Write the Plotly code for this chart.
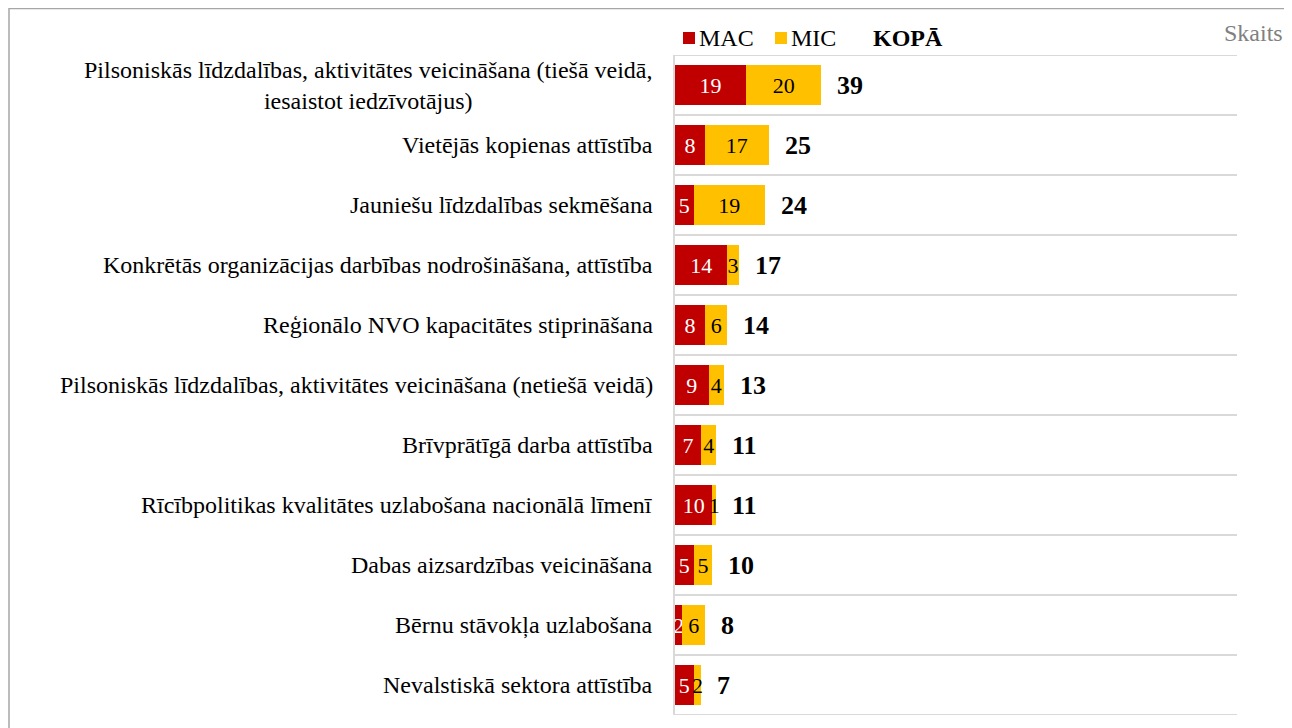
import plotly.graph_objects as go

categories = [
    "Pilsoniskās līdzdalības, aktivitātes veicināšana (tiešā veidā,<br>iesaistot iedzīvotājus)",
    "Vietējās kopienas attīstība",
    "Jauniešu līdzdalības sekmēšana",
    "Konkrētās organizācijas darbības nodrošināšana, attīstība",
    "Reģionālo NVO kapacitātes stiprināšana",
    "Pilsoniskās līdzdalības, aktivitātes veicināšana (netiešā veidā)",
    "Brīvprātīgā darba attīstība",
    "Rīcībpolitikas kvalitātes uzlabošana nacionālā līmenī",
    "Dabas aizsardzības veicināšana",
    "Bērnu stāvokļa uzlabošana",
    "Nevalstiskā sektora attīstība",
]
mac = [19, 8, 5, 14, 8, 9, 7, 10, 5, 2, 5]
mic = [20, 17, 19, 3, 6, 4, 4, 1, 5, 6, 2]
totals = [a + b for a, b in zip(mac, mic)]
series_names = ["MAC", "MIC"]
total_label = "KOPĀ"
unit_label = "Skaits"

RED = "#C00000"
GOLD = "#FFC000"
GRID = "#d9d9d9"
FONT = "Liberation Serif"
n = len(categories)
ypos = list(range(n))

# page pixel -> paper coordinate helpers (plot area spans x 675..1237, y 55..715 on the page)
def px(xp):
    return (xp - 675) / 562

def py(yp):
    return (715 - yp) / 660

fig = go.Figure()
for name, vals, col, tcol in [(series_names[0], mac, RED, "white"),
                              (series_names[1], mic, GOLD, "black")]:
    fig.add_trace(go.Bar(
        y=ypos, x=vals, orientation="h", name=name,
        marker=dict(color=col, line=dict(width=0)),
        text=[str(v) for v in vals], textposition="inside", insidetextanchor="middle",
        constraintext="none", textangle=0,
        textfont=dict(family=FONT, size=22, color=tcol),
        showlegend=False,
    ))

annotations = []
for i, (cat, tot) in enumerate(zip(categories, totals)):
    annotations.append(dict(
        x=0, xref="paper", y=i, yref="y", text=cat, showarrow=False,
        xanchor="right", yanchor="middle", xshift=-20, align="center",
        font=dict(family=FONT, size=24, color="black"),
    ))
    annotations.append(dict(
        x=tot, xref="x", y=i, yref="y", text=f"<b>{tot}</b>", showarrow=False,
        xanchor="left", yanchor="middle", xshift=14,
        font=dict(family=FONT, size=26, color="black"),
    ))

shapes = []
# horizontal separators at category boundaries
for k in range(n + 1):
    shapes.append(dict(type="line", xref="paper", yref="y",
                       x0=0, x1=1, y0=k - 0.5, y1=k - 0.5,
                       line=dict(color=GRID, width=2), layer="below"))

# custom legend
for name, col, sq_x, tx_x in [(series_names[0], RED, 683, 697), (series_names[1], GOLD, 775, 789)]:
    shapes.append(dict(type="rect", xref="paper", yref="paper",
                       x0=px(sq_x), x1=px(sq_x + 12), y0=py(44), y1=py(32),
                       fillcolor=col, line=dict(width=0)))
    annotations.append(dict(
        x=px(tx_x), xref="paper", y=py(38), yref="paper", text=name,
        showarrow=False, xanchor="left", yanchor="middle",
        font=dict(family=FONT, size=24, color="black"),
    ))
annotations.append(dict(
    x=px(871), xref="paper", y=py(38), yref="paper",
    text=f"<b>{total_label}</b>", showarrow=False, xanchor="left", yanchor="middle",
    font=dict(family=FONT, size=24, color="black"),
))
annotations.append(dict(
    x=px(1285), xref="paper", y=py(33), yref="paper",
    text=unit_label, showarrow=False, xanchor="right", yanchor="middle",
    font=dict(family=FONT, size=24, color="#808080"),
))

# outer frame (top and left edges visible)
shapes.append(dict(
    type="rect", xref="paper", yref="paper",
    x0=px(9), x1=px(1330), y0=py(760), y1=py(8.5),
    line=dict(color="#a6a6a6", width=1.5), fillcolor="rgba(0,0,0,0)",
    layer="below",
))

fig.update_layout(
    width=1284, height=720,
    margin=dict(l=667, r=55, t=47, b=13),
    paper_bgcolor="white", plot_bgcolor="white",
    barmode="stack", bargap=1/3,
    font=dict(family=FONT, size=24, color="black"),
    showlegend=False,
    xaxis=dict(range=[0, 150], showgrid=False, zeroline=False,
               showticklabels=False, ticks="", showline=False,
               fixedrange=True),
    yaxis=dict(range=[n - 0.5, -0.5], tickvals=ypos, showticklabels=False,
               showgrid=False, zeroline=False, ticks="",
               showline=True, linecolor=GRID, linewidth=2,
               fixedrange=True),
    annotations=annotations,
    shapes=shapes,
)

fig.write_html("out.html")
